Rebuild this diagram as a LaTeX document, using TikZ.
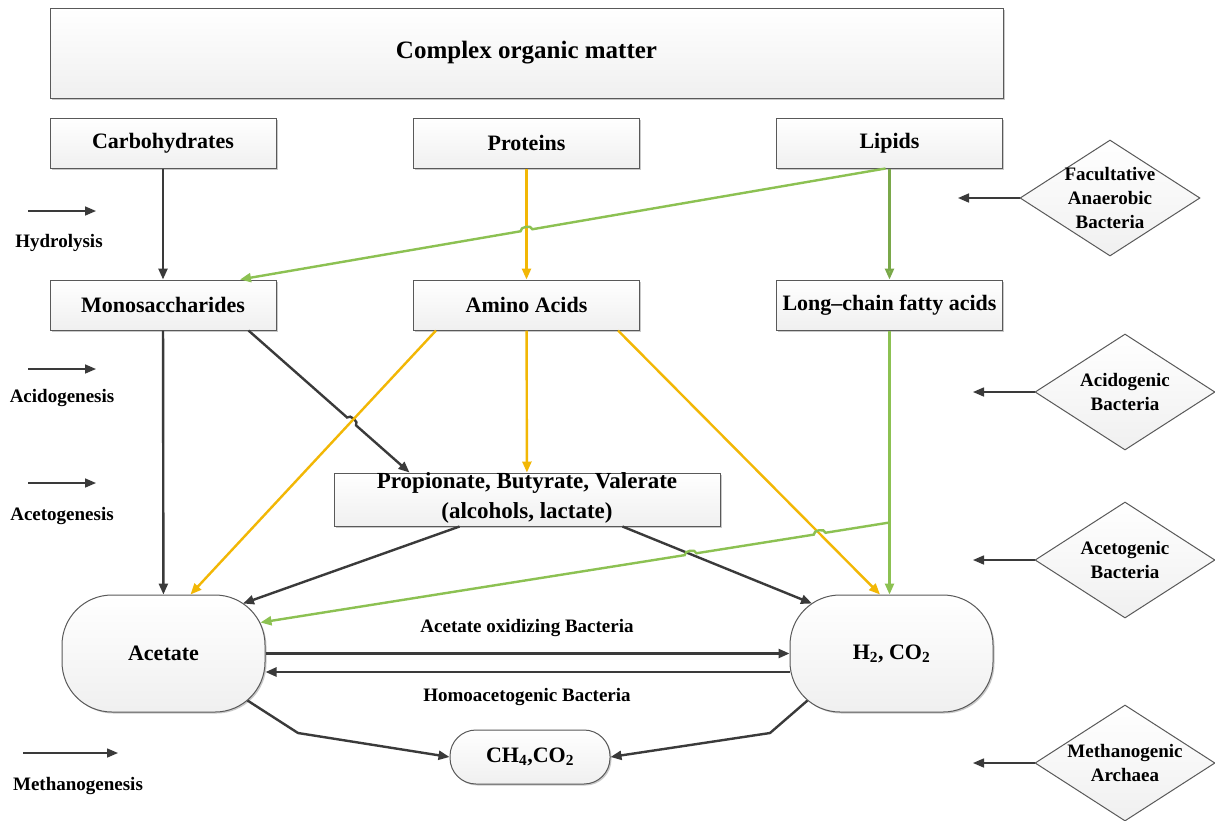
\documentclass[tikz,border=0pt]{standalone}
\usepackage{fontspec}
\setmainfont{Liberation Serif}
\usetikzlibrary{arrows.meta,shapes.geometric,shadows,calc}
\definecolor{dk}{HTML}{3A3A3A}
\definecolor{og}{HTML}{F2B705}
\definecolor{gr}{HTML}{8CC152}
\definecolor{grd}{HTML}{7AA84A}
\begin{document}
\begin{tikzpicture}[x=1pt,y=-1pt,
  shad/.style={drop shadow={shadow xshift=1.5pt,shadow yshift=-1.5pt,fill=gray!70,opacity=0.6}},
  box/.style={draw=gray!70!black, line width=1pt, top color=white, bottom color=gray!12, shad, inner sep=0pt,
    font=\fontsize{22}{25}\selectfont\bfseries},
  rbox/.style={box, minimum width=203pt, minimum height=117pt, rounded corners=50pt},
  dia/.style={diamond, draw=gray!70!black, line width=1pt, top color=white, bottom color=gray!12,
    minimum width=180pt, minimum height=116pt, inner sep=0pt},
  dtxt/.style={align=center, font=\fontsize{19}{24}\selectfont\bfseries},
  lbl/.style={font=\fontsize{19}{22}\selectfont\bfseries},
  tip/.style={-{Triangle[length=11pt,width=9pt]}},
  dkl/.style={draw=dk, line width=2.4pt, tip},
  ogl/.style={draw=og, line width=2.4pt, tip},
  grl/.style={draw=gr, line width=2.4pt, tip},
  thin/.style={draw=dk, line width=1.6pt, tip},
  ]
\useasboundingbox[fill=white] (0,0) rectangle (1215,820);

% boxes
\node[box, minimum width=953pt, minimum height=90pt, font=\fontsize{25}{28}\selectfont\bfseries] (com) at (526.5,53) {Complex organic matter};
\node[box, minimum width=226pt, minimum height=50pt] (carb) at (163,143) {Carbohydrates};
\node[box, minimum width=226pt, minimum height=50pt] (prot) at (526.5,143) {Proteins};
\node[box, minimum width=226pt, minimum height=50pt] (lip) at (889.5,143) {Lipids};
\node[box, minimum width=226pt, minimum height=50pt] (mono) at (163,305) {Monosaccharides};
\node[box, minimum width=226pt, minimum height=50pt] (amino) at (526.5,305) {Amino Acids};
\node[box, minimum width=226pt, minimum height=50pt] (lcfa) at (889.5,305) {Long--chain fatty acids};
\node[box, minimum width=386pt, minimum height=53pt] (prop) at (527,499.5) {};
\node[align=center, font=\fontsize{23}{30}\selectfont\bfseries] (propt) at (527,497.5) {Propionate, Butyrate, Valerate\\(alcohols, lactate)};
\node[rbox] (ace) at (163.5,653.5) {Acetate};
\node[rbox] (h2) at (891.5,653.5) {H\textsubscript{2}, CO\textsubscript{2}};
\node[box, minimum width=160pt, minimum height=54pt, rounded corners=26pt] (ch4) at (530,757) {CH\textsubscript{4},CO\textsubscript{2}};

% diamonds
\node[dia] (d1) at (1110,198) {};
\node[dtxt] (d1t) at (d1) {Facultative\\Anaerobic\\Bacteria};
\node[dia] (d2) at (1125,392) {};
\node[dtxt] (d2t) at (d2) {Acidogenic\\Bacteria};
\node[dia] (d3) at (1125,560) {};
\node[dtxt] (d3t) at (d3) {Acetogenic\\Bacteria};
\node[dia] (d4) at (1125,763) {};
\node[dtxt] (d4t) at (d4) {Methanogenic\\Archaea};
\coordinate (d1e) at (958,198);
\coordinate (d2e) at (973,392);
\coordinate (d3e) at (973,560);
\coordinate (d4e) at (973,763);
\draw[thin] (d1.west) -- (d1e);
\draw[thin] (d2.west) -- (d2e);
\draw[thin] (d3.west) -- (d3e);
\draw[thin] (d4.west) -- (d4e);

% stage labels
\coordinate (s1a) at (28,211); \coordinate (s1b) at (96,211);
\coordinate (s2a) at (28,369); \coordinate (s2b) at (96,369);
\coordinate (s3a) at (28,483); \coordinate (s3b) at (96,483);
\coordinate (s4a) at (23,753); \coordinate (s4b) at (118,753);
\draw[thin] (s1a) -- (s1b);
\draw[thin] (s2a) -- (s2b);
\draw[thin] (s3a) -- (s3b);
\draw[thin] (s4a) -- (s4b);
\node[lbl] (hyd) at (59,243) {Hydrolysis};
\node[lbl] (acid) at (62,398) {Acidogenesis};
\node[lbl] (acet) at (62,516) {Acetogenesis};
\node[lbl] (meth) at (78,786) {Methanogenesis};

% key points
\coordinate (l1) at ($(lip.south)+(-4,0)$);
\coordinate (m1) at ($(mono.north)+(77,0)$);
\coordinate (m2) at ($(mono.south east)+(-28,0)$);
\coordinate (p1) at ($(prop.north west)+(76,0)$);
\coordinate (a1) at ($(amino.south west)+(23,0)$);
\coordinate (ac1) at ($(ace.north)+(27,0)$);
\coordinate (a2) at ($(amino.south east)+(-22,0)$);
\coordinate (ht1) at ($(h2.north)+(-11.5,0)$);
\coordinate (ht2) at (lcfa.south |- h2.north);
\coordinate (br) at ($(lcfa.south)+(0,192)$);
\coordinate (ac2) at ($(ace.center)+(97,-31)$);
\coordinate (p2) at ($(prop.south west)+(126,0)$);
\coordinate (ac3) at ($(ace.center)+(79.5,-50)$);
\coordinate (p3) at ($(prop.south east)+(-98,0)$);
\coordinate (ht3) at ($(h2.center)+(-79.5,-50)$);
\coordinate (ab) at ($(ace.center)+(84,47)$);
\coordinate (ak) at (298,733);
\coordinate (hb) at ($(h2.center)+(-84,47)$);
\coordinate (hk) at (770,733);

% hop positions
\path (intersection of l1--m1 and prot.south--amino.north) coordinate (x1);
\path (intersection of m2--p1 and a1--ac1) coordinate (x2);
\path (intersection of br--ac2 and a2--ht1) coordinate (x3);
\path (intersection of br--ac2 and p3--ht3) coordinate (x4);

% hydrolysis
\draw[dkl] (carb) -- (mono);
\draw[ogl] (prot) -- (amino);
\draw[grl, draw=grd, -{Triangle[length=11pt,width=9pt,fill=gr]}] (lip) -- (lcfa);
\draw[grl] (l1) -- ($(x1)!6pt!(l1)$) to[bend right=90] ($(x1)!6pt!(m1)$) -- (m1);

% acidogenesis
\draw[dkl] (mono) -- (ace);
\draw[dkl] (m2) -- ($(x2)!6pt!(m2)$) to[bend left=90] ($(x2)!6pt!(p1)$) -- (p1);
\draw[ogl] (a1) -- (ac1);
\draw[ogl] (amino) -- (prop);
\draw[ogl] (a2) -- (ht1);
\draw[grl] (lcfa.south) -- (ht2);

% acetogenesis
\draw[dkl] (p2) -- (ac3);
\draw[dkl] (p3) -- (ht3);
\draw[grl] (br) -- ($(x3)!6pt!(br)$) to[bend right=90] ($(x3)!6pt!(ac2)$) -- ($(x4)!6pt!(br)$) to[bend right=90] ($(x4)!6pt!(ac2)$) -- (ac2);

% acetate <-> H2
\draw[dkl] (ace.east) -- (h2.west);
\draw[dkl] ($(h2.west)+(0,18.5)$) -- ($(ace.east)+(0,18.5)$);
\node[lbl] (aob) at (527,628) {Acetate oxidizing Bacteria};
\node[lbl] (hab) at (527,697) {Homoacetogenic Bacteria};

% methanogenesis
\draw[dkl] (ab) -- (ak) -- (ch4.west);
\draw[dkl] (hb) -- (hk) -- (ch4.east);
\end{tikzpicture}
\end{document}
